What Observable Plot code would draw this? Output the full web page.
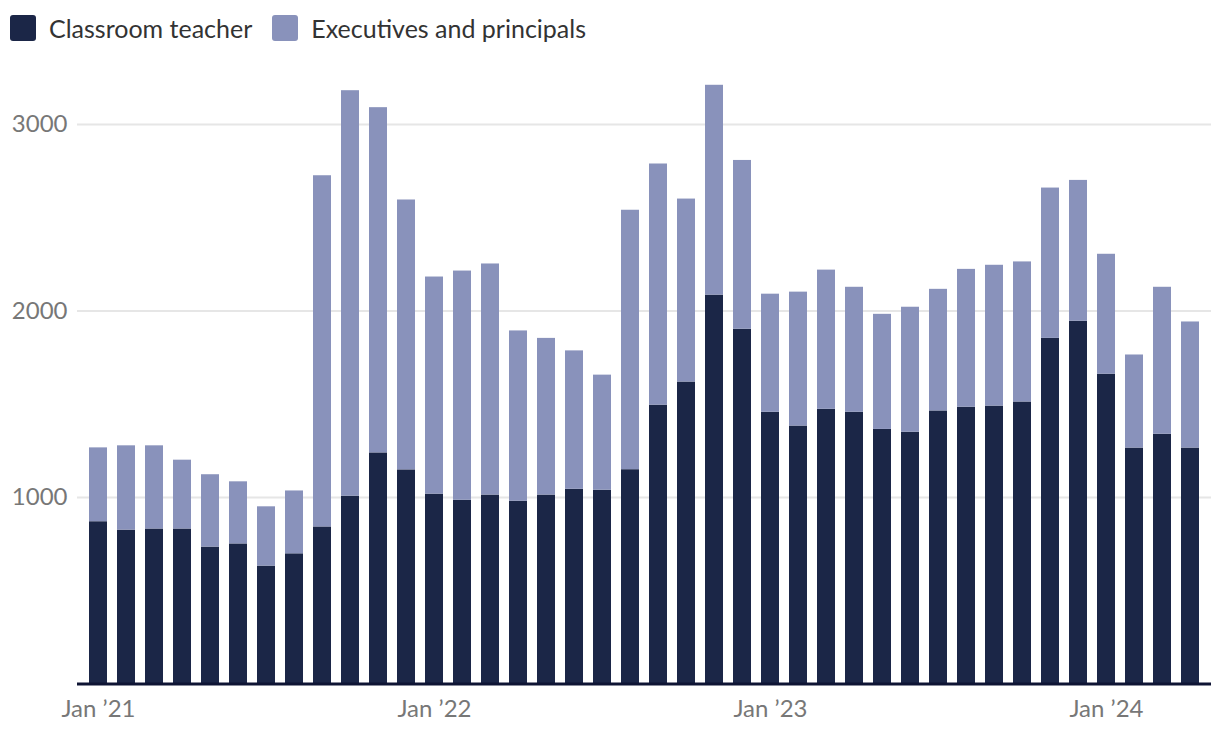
<!DOCTYPE html>
<html>
<head>
<meta charset="utf-8">
<script src="https://cdn.jsdelivr.net/npm/d3@7"></script>
<script src="https://cdn.jsdelivr.net/npm/@observablehq/plot@0.6"></script>
<style>
  html, body { margin: 0; padding: 0; background: #fff; }
  body { width: 1220px; height: 748px; overflow: hidden; font-family: Lato, "Open Sans", sans-serif; }
  #legend { height: 56px; display: flex; align-items: center; padding-left: 10px; box-sizing: border-box; font-size: 25px; color: #333; }
  .item { display: flex; align-items: center; margin-right: 20px; }
  .sw { width: 26px; height: 26px; border-radius: 3px; margin-right: 13px; }
</style>
</head>
<body>
<div id="legend"></div>
<div id="chart"></div>
<script>
const months = [
  "2021-01","2021-02","2021-03","2021-04","2021-05","2021-06","2021-07","2021-08","2021-09","2021-10","2021-11","2021-12",
  "2022-01","2022-02","2022-03","2022-04","2022-05","2022-06","2022-07","2022-08","2022-09","2022-10","2022-11","2022-12",
  "2023-01","2023-02","2023-03","2023-04","2023-05","2023-06","2023-07","2023-08","2023-09","2023-10","2023-11","2023-12",
  "2024-01","2024-02","2024-03","2024-04"
];
const classroomTeacher = [
  870, 825, 831, 831, 734, 751, 632, 698, 842, 1007, 1239, 1148,
  1018, 985, 1013, 980, 1013, 1044, 1039, 1149, 1495, 1619, 2085, 1902,
  1457, 1383, 1473, 1457, 1365, 1350, 1464, 1484, 1490, 1512, 1853, 1945,
  1661, 1265, 1339, 1265
];
const executivesPrincipals = [
  396, 452, 446, 369, 388, 333, 318, 337, 1883, 2174, 1851, 1447,
  1164, 1229, 1239, 913, 840, 742, 617, 1391, 1293, 981, 1125, 905,
  633, 718, 746, 670, 617, 670, 652, 739, 755, 751, 806, 755,
  643, 499, 788, 676
];
const seriesNames = ["Classroom teacher", "Executives and principals"];
const seriesColors = ["#1b2647", "#8992bb"];
const xTicks = ["2021-01", "2022-01", "2023-01", "2024-01"];
const yTicks = [1000, 2000, 3000];

const rows = [];
months.forEach((m, i) => {
  rows.push({month: m, series: seriesNames[0], value: classroomTeacher[i]});
  rows.push({month: m, series: seriesNames[1], value: executivesPrincipals[i]});
});

// legend
const legend = document.getElementById("legend");
seriesNames.forEach((s, i) => {
  const it = document.createElement("div");
  it.className = "item";
  const sw = document.createElement("div");
  sw.className = "sw";
  sw.style.background = seriesColors[i];
  const tx = document.createElement("span");
  tx.textContent = s;
  it.appendChild(sw); it.appendChild(tx);
  legend.appendChild(it);
});

const fmtMonth = (m) => {
  const [y] = m.split("-");
  return "Jan \u2019" + y.slice(2);
};

const chart = Plot.plot({
  width: 1220,
  height: 692,
  marginLeft: 77,
  marginRight: 9,
  marginTop: 12,
  marginBottom: 64.5,
  style: {fontFamily: "Lato, 'Open Sans', sans-serif", background: "#fff"},
  x: {type: "band", domain: months, paddingInner: 0.36, paddingOuter: 0.21, axis: null},
  y: {domain: [0, 3300], axis: null},
  color: {domain: seriesNames, range: seriesColors},
  marks: [
    Plot.gridY(yTicks, {stroke: "#e6e6e6", strokeOpacity: 1, strokeWidth: 2}),
    Plot.axisY(yTicks, {tickSize: 0, tickPadding: 10, fontSize: 24, fill: "#777", label: null, tickFormat: d => String(d)}),
    Plot.barY(rows, {x: "month", y: "value", fill: "series", order: seriesNames}),
    Plot.ruleY([0], {stroke: "#0e1434", strokeWidth: 3}),
    Plot.axisX(xTicks, {tickSize: 0, tickPadding: 16, fontSize: 24, fill: "#777", label: null, tickFormat: fmtMonth})
  ]
});
document.getElementById("chart").appendChild(chart);
</script>
</body>
</html>
